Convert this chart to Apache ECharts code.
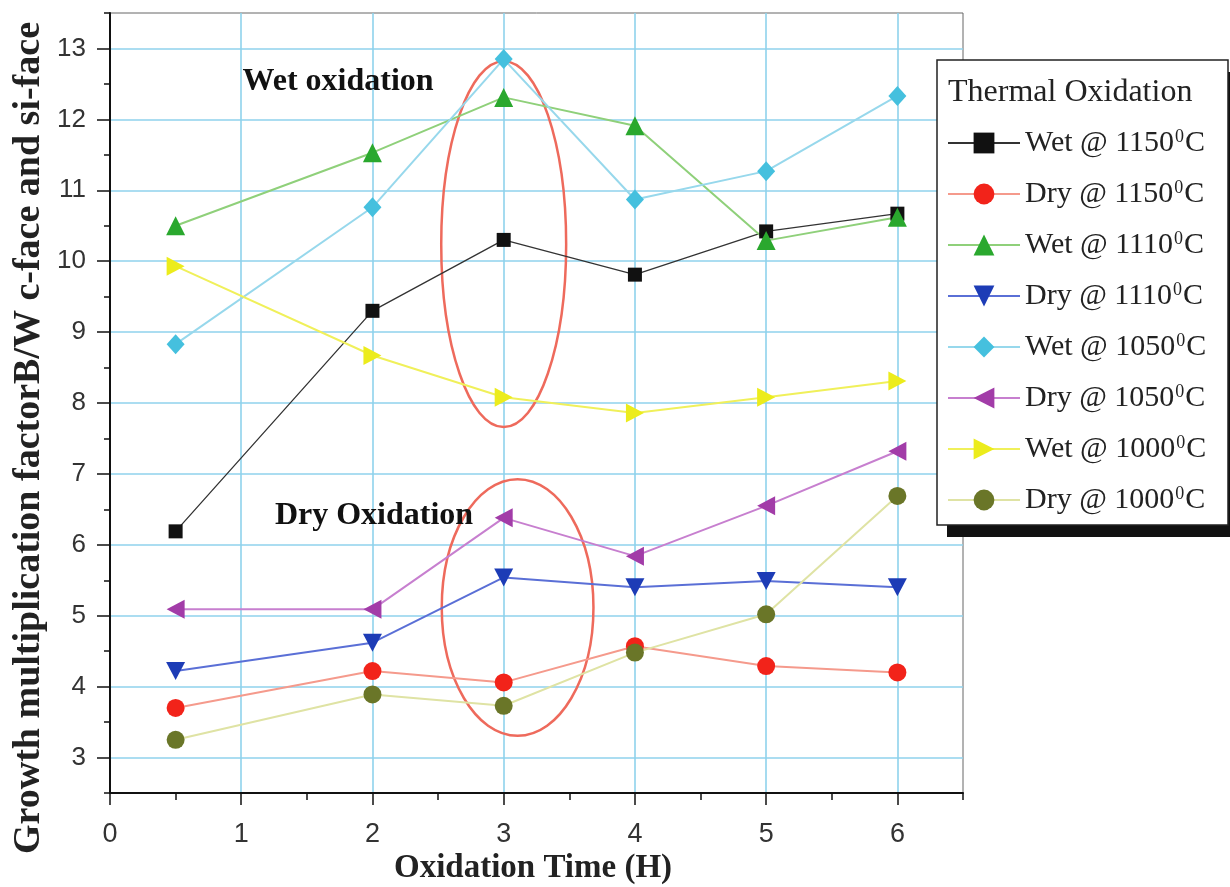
<!DOCTYPE html>
<html>
<head>
<meta charset="utf-8">
<script src="https://cdn.jsdelivr.net/npm/echarts@6/dist/echarts.min.js"></script>
<style>
  html, body { margin: 0; padding: 0; background: #fff; }
  #chart { width: 1230px; height: 887px; }
</style>
</head>
<body>
<div id="chart"></div>
<script>
// Oxidation time (hours) at which each growth factor was measured
const hours = [0.5, 2, 3, 4, 5, 6];

// Growth multiplication factor between C-face and Si-face
const wet1150 = [6.19, 9.30, 10.30, 9.81, 10.42, 10.67];
const dry1150 = [3.70, 4.22, 4.06, 4.57, 4.29, 4.20];
const wet1110 = [10.50, 11.53, 12.31, 11.91, 10.29, 10.62];
const dry1110 = [4.22, 4.62, 5.54, 5.40, 5.49, 5.40];
const wet1050 = [8.83, 10.76, 12.85, 10.87, 11.27, 12.33];
const dry1050 = [5.09, 5.09, 6.38, 5.84, 6.55, 7.32];
const wet1000 = [9.93, 8.67, 8.08, 7.86, 8.08, 8.31];
const dry1000 = [3.25, 3.89, 3.73, 4.48, 5.02, 6.69];

// Axis ticks
const xTicks = [0, 1, 2, 3, 4, 5, 6];
const xMinorTicks = [0.5, 1.5, 2.5, 3.5, 4.5, 5.5, 6.5];
const yTicks = [3, 4, 5, 6, 7, 8, 9, 10, 11, 12, 13];
const yMinorTicks = [2.5, 3.5, 4.5, 5.5, 6.5, 7.5, 8.5, 9.5, 10.5, 11.5, 12.5, 13.5];

// Highlight rings around the 3 h measurements (centre and half-axes in data units)
const highlightRings = [
  { cx: 3.0, cy: 10.24, rx: 0.476, ry: 2.58 },
  { cx: 3.106, cy: 5.116, rx: 0.578, ry: 1.81 }
];

const SERIF = "'Liberation Serif', 'Times New Roman', serif";
const SANS = "'Liberation Sans', Arial, sans-serif";
const GRID_BLUE = '#8fd2ec';

const seriesDefs = [
  { name: 'Wet @ 1150', values: wet1150, symbol: 'rect', size: 14, fill: '#111111', line: '#333333', width: 1.3 },
  { name: 'Dry @ 1150', values: dry1150, symbol: 'circle', size: 18, fill: '#f2231a', line: '#f59a8c', width: 2 },
  { name: 'Wet @ 1110', values: wet1110, symbol: 'triangle', size: 19, fill: '#2aa82e', line: '#8fd07a', width: 2 },
  { name: 'Dry @ 1110', values: dry1110, symbol: 'path://M0,0L10,0L5,9Z', size: [19, 18], fill: '#1d3cb6', line: '#5a6fd6', width: 2 },
  { name: 'Wet @ 1050', values: wet1050, symbol: 'diamond', size: [18, 20], fill: '#45c0de', line: '#97d8ec', width: 2 },
  { name: 'Dry @ 1050', values: dry1050, symbol: 'path://M9,0L9,10L0,5Z', size: [18, 19], fill: '#a23ca8', line: '#c77fcf', width: 2 },
  { name: 'Wet @ 1000', values: wet1000, symbol: 'path://M0,0L9,5L0,10Z', size: [18, 19], fill: '#ecec1c', line: '#f0f05a', width: 2 },
  { name: 'Dry @ 1000', values: dry1000, symbol: 'circle', size: 18, fill: '#6a7628', line: '#dfe3a4', width: 2 }
];

const chart = echarts.init(document.getElementById('chart'), null, { renderer: 'canvas' });

const series = seriesDefs.map(d => ({
  name: d.name,
  type: 'line',
  xAxisIndex: 0,
  yAxisIndex: 0,
  data: hours.map((h, i) => [h, d.values[i]]),
  symbol: d.symbol,
  symbolSize: d.size,
  itemStyle: { color: d.fill, borderWidth: 0 },
  lineStyle: { color: d.line, width: d.width },
  emphasis: { disabled: true },
  silent: true,
  z: 2
}));

const option = {
  backgroundColor: '#ffffff',
  animation: false,
  grid: {
    left: 110, right: 267, top: 13, bottom: 94,
    show: true, borderColor: '#666', borderWidth: 1, backgroundColor: 'transparent'
  },
  xAxis: [
    {
      type: 'value', min: 0, max: 6.5, position: 'bottom',
      axisLine: { show: true, onZero: false, lineStyle: { color: '#111', width: 2 } },
      axisTick: { show: true, customValues: xTicks, length: 12, lineStyle: { color: '#111', width: 1.5 } },
      axisLabel: { customValues: xTicks, color: '#333', fontFamily: SANS, fontSize: 27, margin: 28 },
      splitLine: { show: true, lineStyle: { color: GRID_BLUE, width: 1.6 } }
    },
    {
      type: 'value', min: 0, max: 6.5, position: 'bottom',
      axisLine: { show: false },
      axisTick: { show: true, customValues: xMinorTicks, length: 7, lineStyle: { color: '#111', width: 1.5 } },
      axisLabel: { show: false },
      splitLine: { show: false }
    }
  ],
  yAxis: [
    {
      type: 'value', min: 2.5, max: 13.5, position: 'left',
      axisLine: { show: true, onZero: false, lineStyle: { color: '#111', width: 2 } },
      axisTick: { show: true, customValues: yTicks, length: 13, lineStyle: { color: '#111', width: 1.5 } },
      axisLabel: { customValues: yTicks, color: '#333', fontFamily: SANS, fontSize: 26, margin: 24 },
      splitLine: { show: true, lineStyle: { color: GRID_BLUE, width: 1.6 } }
    },
    {
      type: 'value', min: 2.5, max: 13.5, position: 'left',
      axisLine: { show: false },
      axisTick: { show: true, customValues: yMinorTicks, length: 6, lineStyle: { color: '#111', width: 1.5 } },
      axisLabel: { show: false },
      splitLine: { show: false }
    }
  ],
  legend: {
    orient: 'vertical',
    left: 947,
    top: 128,
    itemWidth: 72,
    itemHeight: 26,
    itemGap: 21,
    padding: 0,
    selectedMode: false,
    data: seriesDefs.map(d => d.name),
    formatter: name => name + '{sup|0}C',
    textStyle: {
      color: '#222', fontFamily: SERIF, fontSize: 30,
      rich: {
        sup: { fontFamily: SERIF, fontSize: 18, color: '#222', verticalAlign: 'top', padding: [0, 1, 12, 1] }
      }
    },
    z: 5
  },
  graphic: [
    {
      // solid drop shadow behind the legend box
      type: 'rect', z: 3,
      shape: { x: 947, y: 72, width: 291, height: 465 },
      style: { fill: '#111' }
    },
    {
      type: 'rect', z: 3,
      shape: { x: 937, y: 60, width: 291, height: 465 },
      style: { fill: '#ffffff', stroke: '#222', lineWidth: 1.5 }
    },
    {
      type: 'text', z: 4, left: 948, top: 77,
      style: { text: 'Thermal Oxidation', fill: '#222', font: '32px ' + SERIF }
    },
    {
      type: 'text', z: 3, x: 338, y: 82,
      style: { text: 'Wet oxidation', fill: '#111', font: 'bold 32px ' + SERIF, align: 'center', verticalAlign: 'middle' }
    },
    {
      type: 'text', z: 3, x: 374, y: 516,
      style: { text: 'Dry Oxidation', fill: '#111', font: 'bold 32px ' + SERIF, align: 'center', verticalAlign: 'middle' }
    },
    {
      type: 'text', z: 3, x: 533, y: 868,
      style: { text: 'Oxidation Time (H)', fill: '#222', font: 'bold 33px ' + SERIF, align: 'center', verticalAlign: 'middle' }
    },
    {
      type: 'text', z: 3, x: 29, y: 438, rotation: Math.PI / 2,
      style: { text: 'Growth multiplication factorB/W c-face and si-face', fill: '#222', font: 'bold 38px ' + SERIF, align: 'center', verticalAlign: 'middle' }
    }
  ],
  series: series
};

chart.setOption(option);

// Rings are sized in data units, then converted to pixels through the grid's scales
const ringElements = highlightRings.map((r, i) => {
  const c = chart.convertToPixel({ gridIndex: 0 }, [r.cx, r.cy]);
  const e = chart.convertToPixel({ gridIndex: 0 }, [r.cx + r.rx, r.cy + r.ry]);
  return {
    type: 'ellipse', id: 'ring' + i, z: 1, silent: true,
    shape: { cx: c[0], cy: c[1], rx: Math.abs(e[0] - c[0]), ry: Math.abs(c[1] - e[1]) },
    style: { fill: 'none', stroke: '#ee6a5c', lineWidth: 2.5 }
  };
});
chart.setOption({ graphic: ringElements });
</script>
</body>
</html>
